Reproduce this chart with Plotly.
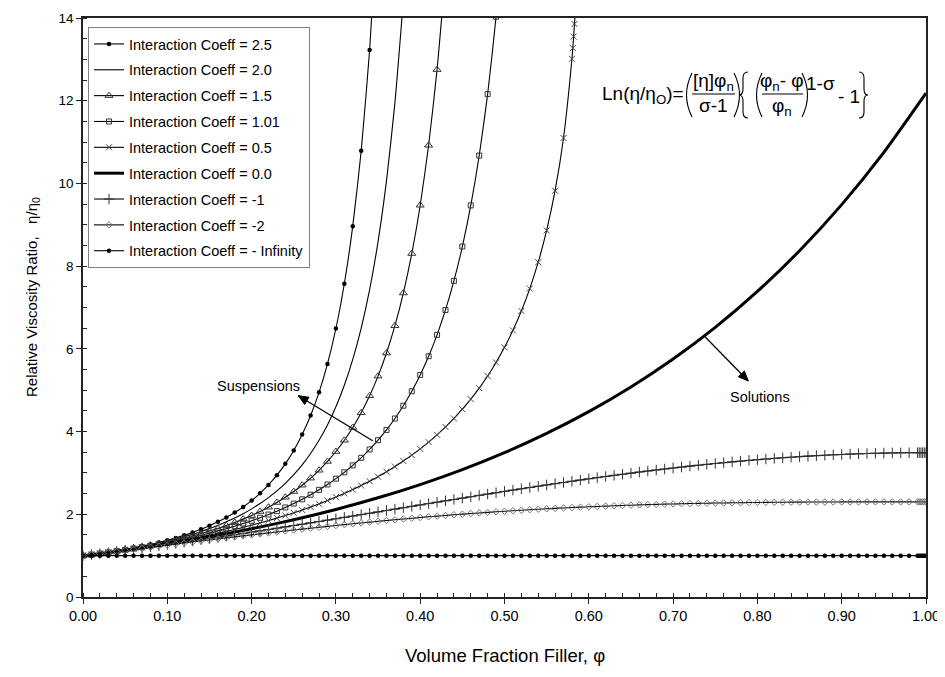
import math
import plotly.graph_objects as go

# ---------------- data ----------------
SERIES_NAMES = ["Interaction Coeff = 2.5", "Interaction Coeff = 2.0", "Interaction Coeff = 1.5",
                "Interaction Coeff = 1.01", "Interaction Coeff = 0.5", "Interaction Coeff = 0.0",
                "Interaction Coeff = -1", "Interaction Coeff = -2", "Interaction Coeff = - Infinity"]

PHI_S25 = [0.00, 0.01, 0.02, 0.03, 0.04, 0.05, 0.06, 0.07, 0.08, 0.09, 0.10, 0.11, 0.12, 0.13, 0.14, 0.15,
           0.16, 0.17, 0.18, 0.19, 0.20, 0.21, 0.22, 0.23, 0.24, 0.25, 0.26, 0.27, 0.28, 0.29, 0.30, 0.31,
           0.32, 0.33, 0.34, 0.35]
VISC_S25 = [1.0, 1.02587, 1.05359, 1.08336, 1.11539, 1.14991, 1.18723, 1.22764, 1.27153, 1.31930, 1.37147,
            1.42860, 1.49136, 1.56056, 1.63710, 1.72208, 1.81685, 1.92299, 2.04244, 2.17754, 2.33118,
            2.50689, 2.71045, 2.94523, 3.21953, 3.54267, 3.92690, 4.38798, 4.94785, 5.63560, 6.49194,
            7.57485, 8.96631, 10.7882, 13.2264, 16.5579]

PHI_S20 = [0.00, 0.01, 0.02, 0.03, 0.04, 0.05, 0.06, 0.07, 0.08, 0.09, 0.10, 0.11, 0.12, 0.13, 0.14, 0.15,
           0.16, 0.17, 0.18, 0.19, 0.20, 0.21, 0.22, 0.23, 0.24, 0.25, 0.26, 0.27, 0.28, 0.29, 0.30, 0.31,
           0.32, 0.33, 0.34, 0.35, 0.36, 0.37, 0.38]
VISC_S20 = [1.0, 1.02576, 1.05312, 1.08222, 1.11324, 1.14634, 1.18173, 1.21964, 1.26033, 1.30409, 1.35123,
            1.40217, 1.45731, 1.51717, 1.58231, 1.65341, 1.73124, 1.81670, 1.91085, 2.01501, 2.13063,
            2.25950, 2.40376, 2.56604, 2.74952, 2.95813, 3.19674, 3.47134, 3.78963, 4.16130, 4.59904,
            5.11942, 5.74436, 6.50184, 7.43352, 8.59328, 10.0612, 11.9490, 14.4257]

PHI_S15 = [0.00, 0.01, 0.02, 0.03, 0.04, 0.05, 0.06, 0.07, 0.08, 0.09, 0.10, 0.11, 0.12, 0.13, 0.14, 0.15,
           0.16, 0.17, 0.18, 0.19, 0.20, 0.21, 0.22, 0.23, 0.24, 0.25, 0.26, 0.27, 0.28, 0.29, 0.30, 0.31,
           0.32, 0.33, 0.34, 0.35, 0.36, 0.37, 0.38, 0.39, 0.40, 0.41, 0.42, 0.43]
VISC_S15 = [1.0, 1.02565, 1.05265, 1.08111, 1.11114, 1.14289, 1.17647, 1.21203, 1.24975, 1.28985, 1.33250,
            1.37796, 1.42647, 1.47837, 1.53397, 1.59364, 1.65785, 1.72706, 1.80182, 1.88279, 1.97070,
            2.06643, 2.17096, 2.28540, 2.41117, 2.54982, 2.70330, 2.87378, 3.06401, 3.27721, 3.51740,
            3.78946, 4.09923, 4.45432, 4.86411, 5.34055, 5.89917, 6.55958, 7.35031, 8.30488, 9.47259,
            10.9227, 12.7525, 15.1022]

PHI_S101 = [0.00, 0.01, 0.02, 0.03, 0.04, 0.05, 0.06, 0.07, 0.08, 0.09, 0.10, 0.11, 0.12, 0.13, 0.14, 0.15,
            0.16, 0.17, 0.18, 0.19, 0.20, 0.21, 0.22, 0.23, 0.24, 0.25, 0.26, 0.27, 0.28, 0.29, 0.30, 0.31,
            0.32, 0.33, 0.34, 0.35, 0.36, 0.37, 0.38, 0.39, 0.40, 0.41, 0.42, 0.43, 0.44, 0.45, 0.46, 0.47,
            0.48, 0.49, 0.50]
VISC_S101 = [1.0, 1.02554, 1.05219, 1.08004, 1.10914, 1.13960, 1.17149, 1.20491, 1.23997, 1.27677, 1.31546,
             1.35616, 1.39903, 1.44424, 1.49195, 1.54237, 1.59574, 1.65228, 1.71228, 1.77604, 1.84389,
             1.91620, 1.99343, 2.07604, 2.16457, 2.25967, 2.36199, 2.47233, 2.59162, 2.72094, 2.86144,
             3.01458, 3.18201, 3.36567, 3.56785, 3.79128, 4.03927, 4.31573, 4.62541, 4.97434, 5.36976,
             5.82093, 6.33953, 6.94054, 7.64331, 8.47413, 9.46821, 10.6743, 12.1604, 14.0313, 16.4370]

PHI_S05 = [0.00, 0.01, 0.02, 0.03, 0.04, 0.05, 0.06, 0.07, 0.08, 0.09, 0.10, 0.11, 0.12, 0.13, 0.14, 0.15,
           0.16, 0.17, 0.18, 0.19, 0.20, 0.21, 0.22, 0.23, 0.24, 0.25, 0.26, 0.27, 0.28, 0.29, 0.30, 0.31,
           0.32, 0.33, 0.34, 0.35, 0.36, 0.37, 0.38, 0.39, 0.40, 0.41, 0.42, 0.43, 0.44, 0.45, 0.46, 0.47,
           0.48, 0.49, 0.50, 0.51, 0.52, 0.53, 0.54, 0.55, 0.56, 0.57, 0.58, 0.581, 0.582, 0.583, 0.584, 0.585]
VISC_S05 = [1.0, 1.02542, 1.05173, 1.07894, 1.10711, 1.13629, 1.16652, 1.19785, 1.23033, 1.26403, 1.29901,
            1.33533, 1.37305, 1.41227, 1.45305, 1.49548, 1.53966, 1.58568, 1.63366, 1.68371, 1.73594,
            1.79050, 1.84755, 1.90722, 1.96968, 2.03514, 2.10380, 2.17588, 2.25162, 2.33129, 2.41520,
            2.50369, 2.59707, 2.69577, 2.80024, 2.91103, 3.02864, 3.15372, 3.28718, 3.42958, 3.58201,
            3.74560, 3.92160, 4.11143, 4.31697, 4.54033, 4.78392, 5.05099, 5.34534, 5.67178, 6.03651,
            6.44769, 6.91628, 7.45781, 8.09481, 8.86297, 9.82365, 11.0990, 13.0129, 13.2719, 13.5514,
            13.8554, 14.1896, 14.5622]

PHI_S00 = [0.00, 0.05, 0.10, 0.15, 0.20, 0.25, 0.30, 0.35, 0.40, 0.45, 0.50, 0.55, 0.60, 0.65, 0.70, 0.75,
           0.80, 0.85, 0.90, 0.95, 1.00]
VISC_S00 = [1.0, 1.13315, 1.28403, 1.45499, 1.64872, 1.86825, 2.11700, 2.39888, 2.71828, 3.08022, 3.49034,
            3.95508, 4.48169, 5.07842, 5.75460, 6.52082, 7.38906, 8.37290, 9.48774, 10.75101, 12.18249]

PHI_SOL = [0.00, 0.01, 0.02, 0.03, 0.04, 0.05, 0.06, 0.07, 0.08, 0.09, 0.10, 0.11, 0.12, 0.13, 0.14, 0.15,
           0.16, 0.17, 0.18, 0.19, 0.20, 0.21, 0.22, 0.23, 0.24, 0.25, 0.26, 0.27, 0.28, 0.29, 0.30, 0.31,
           0.32, 0.33, 0.34, 0.35, 0.36, 0.37, 0.38, 0.39, 0.40, 0.41, 0.42, 0.43, 0.44, 0.45, 0.46, 0.47,
           0.48, 0.49, 0.50, 0.51, 0.52, 0.53, 0.54, 0.55, 0.56, 0.57, 0.58, 0.59, 0.60, 0.61, 0.62, 0.63,
           0.64, 0.65, 0.66, 0.67, 0.68, 0.69, 0.70, 0.71, 0.72, 0.73, 0.74, 0.75, 0.76, 0.77, 0.78, 0.79,
           0.80, 0.81, 0.82, 0.83, 0.84, 0.85, 0.86, 0.87, 0.88, 0.89, 0.90, 0.91, 0.92, 0.93, 0.94, 0.95,
           0.96, 0.97, 0.98, 0.99, 0.992, 0.994, 0.996, 0.998, 1.00]
VISC_M1 = [1.0, 1.02519, 1.05075, 1.07667, 1.10296, 1.12961, 1.15662, 1.18397, 1.21167, 1.23971, 1.26808,
           1.29677, 1.32578, 1.35510, 1.38473, 1.41464, 1.44484, 1.47532, 1.50607, 1.53707, 1.56831,
           1.59980, 1.63150, 1.66342, 1.69554, 1.72784, 1.76032, 1.79297, 1.82577, 1.85870, 1.89175,
           1.92491, 1.95815, 1.99148, 2.02486, 2.05829, 2.09175, 2.12522, 2.15869, 2.19213, 2.22554,
           2.25889, 2.29217, 2.32536, 2.35844, 2.39139, 2.42420, 2.45684, 2.48930, 2.52155, 2.55359,
           2.58539, 2.61693, 2.64819, 2.67915, 2.70980, 2.74012, 2.77008, 2.79967, 2.82887, 2.85765,
           2.88601, 2.91392, 2.94137, 2.96833, 2.99479, 3.02073, 3.04614, 3.07099, 3.09527, 3.11897,
           3.14205, 3.16452, 3.18635, 3.20753, 3.22805, 3.24788, 3.26702, 3.28545, 3.30316, 3.32012,
           3.33634, 3.35181, 3.36651, 3.38042, 3.39355, 3.40587, 3.41738, 3.42808, 3.43795, 3.44699,
           3.45518, 3.46253, 3.46903, 3.47467, 3.47945, 3.48337, 3.48642, 3.48860, 3.48990, 3.4901,
           3.4902, 3.4903, 3.4903, 3.49034]
VISC_M2 = [1.0, 1.02506, 1.05023, 1.07549, 1.10082, 1.12621, 1.15163, 1.17708, 1.20253, 1.22797, 1.25337,
           1.27872, 1.30401, 1.32921, 1.35431, 1.37929, 1.40413, 1.42882, 1.45334, 1.47768, 1.50181,
           1.52573, 1.54941, 1.57286, 1.59604, 1.61895, 1.64157, 1.66389, 1.68590, 1.70758, 1.72893,
           1.74994, 1.77059, 1.79088, 1.81078, 1.83031, 1.84944, 1.86818, 1.88651, 1.90443, 1.92194,
           1.93902, 1.95569, 1.97192, 1.98772, 2.00308, 2.01801, 2.03250, 2.04656, 2.06017, 2.07335,
           2.08609, 2.09839, 2.11026, 2.12170, 2.13271, 2.14330, 2.15346, 2.16321, 2.17254, 2.18147,
           2.18999, 2.19813, 2.20587, 2.21323, 2.22021, 2.22683, 2.23309, 2.23899, 2.24455, 2.24978,
           2.25468, 2.25926, 2.26354, 2.26752, 2.27121, 2.27462, 2.27776, 2.28064, 2.28328, 2.28568,
           2.28785, 2.28981, 2.29156, 2.29312, 2.29450, 2.29571, 2.29675, 2.29765, 2.29841, 2.29905,
           2.29956, 2.29998, 2.30030, 2.30055, 2.30072, 2.30084, 2.30091, 2.30094, 2.30096, 2.3010,
           2.3010, 2.3010, 2.3010, 2.30097]
VISC_MINF = [1.0, 1.0, 1.0, 1.0, 1.0, 1.0, 1.0, 1.0, 1.0, 1.0, 1.0, 1.0, 1.0, 1.0, 1.0, 1.0, 1.0, 1.0, 1.0,
             1.0, 1.0, 1.0, 1.0, 1.0, 1.0, 1.0, 1.0, 1.0, 1.0, 1.0, 1.0, 1.0, 1.0, 1.0, 1.0, 1.0, 1.0, 1.0,
             1.0, 1.0, 1.0, 1.0, 1.0, 1.0, 1.0, 1.0, 1.0, 1.0, 1.0, 1.0, 1.0, 1.0, 1.0, 1.0, 1.0, 1.0, 1.0,
             1.0, 1.0, 1.0, 1.0, 1.0, 1.0, 1.0, 1.0, 1.0, 1.0, 1.0, 1.0, 1.0, 1.0, 1.0, 1.0, 1.0, 1.0, 1.0,
             1.0, 1.0, 1.0, 1.0, 1.0, 1.0, 1.0, 1.0, 1.0, 1.0, 1.0, 1.0, 1.0, 1.0, 1.0, 1.0, 1.0, 1.0, 1.0,
             1.0, 1.0, 1.0, 1.0, 1.0, 1.0, 1.0, 1.0, 1.0, 1.0]

X_TICKS = [0.0, 0.1, 0.2, 0.3, 0.4, 0.5, 0.6, 0.7, 0.8, 0.9, 1.0]
X_TICK_LABELS = ["0.00", "0.10", "0.20", "0.30", "0.40", "0.50", "0.60", "0.70", "0.80", "0.90", "1.00"]
Y_TICKS = [0, 2, 4, 6, 8, 10, 12, 14]
X_TITLE = "Volume Fraction Filler, φ"
Y_TITLE = "Relative Viscosity Ratio,   η/η<sub>0</sub>"

# ---------------- figure ----------------
FONT = "Liberation Sans, Arial, sans-serif"
OFF = 8                      # default page margin of the html body
W, H = 937, 661
L, R, T, B = 75, 19, 10, 72
PW, PH = W - L - R, H - T - B


def px(xp):                  # page pixel -> paper x
    return (xp - OFF - L) / PW


def py(yp):                  # page pixel -> paper y
    return (H - B - (yp - OFF)) / PH


fig = go.Figure()


def add(xv, yv, name, mode, marker=None, width=1.1):
    fig.add_trace(go.Scatter(
        x=xv, y=yv, name=name, mode=mode, legendgroup=name,
        line=dict(color="black", width=width, shape="spline", smoothing=0.6),
        marker=marker, cliponaxis=True))


add(PHI_S25, VISC_S25, SERIES_NAMES[0], "lines+markers", dict(symbol="circle", size=4.5, color="black"))
add(PHI_S20, VISC_S20, SERIES_NAMES[1], "lines")
add(PHI_S15, VISC_S15, SERIES_NAMES[2], "lines+markers",
    dict(symbol="triangle-up-open", size=7, color="#333", line=dict(width=1)))
add(PHI_S101, VISC_S101, SERIES_NAMES[3], "lines+markers",
    dict(symbol="square-open", size=5, color="#333", line=dict(width=1)))
add(PHI_S05, VISC_S05, SERIES_NAMES[4], "lines+markers",
    dict(symbol="x-thin-open", size=6, color="#444", line=dict(width=1, color="#444")))
add(PHI_S00, VISC_S00, SERIES_NAMES[5], "lines", width=3)
add(PHI_SOL, VISC_M1, SERIES_NAMES[6], "lines+markers",
    dict(symbol="cross-thin-open", size=7.5, color="#333", line=dict(width=1, color="#333")))
add(PHI_SOL, VISC_M2, SERIES_NAMES[7], "lines+markers",
    dict(symbol="diamond-open", size=5, color="#777", line=dict(width=1, color="#777")))
add(PHI_SOL, VISC_MINF, SERIES_NAMES[8], "lines+markers", dict(symbol="circle", size=4.5, color="black"))

axis_common = dict(
    showgrid=False, zeroline=False, showline=True, linecolor="#222", linewidth=1.5, mirror=True,
    ticks="outside", ticklen=5, tickwidth=1, tickcolor="#222",
)

fig.update_xaxes(range=[0, 1], tickvals=X_TICKS, ticktext=X_TICK_LABELS,
                 tickfont=dict(family=FONT, size=14.5, color="black"),
                 minor=dict(dtick=0.02, ticks="inside", ticklen=4, tickcolor="#222"),
                 **axis_common)
fig.update_yaxes(range=[0, 14], tickvals=Y_TICKS,
                 tickfont=dict(family=FONT, size=13.5, color="black"),
                 minor=dict(dtick=0.5, ticks="inside", ticklen=4, tickcolor="#222"),
                 **axis_common)

ann = []
shapes = []


def text_at(txt, xc, yc, size, anchor="center", angle=0):
    ann.append(dict(x=px(xc), y=py(yc), xref="paper", yref="paper", text=txt, showarrow=False,
                    xanchor=anchor, yanchor="middle", textangle=angle,
                    font=dict(family=FONT, size=size, color="black")))


# axis titles
text_at(X_TITLE, 505, 655, 18.5)
text_at(Y_TITLE, 32, 297, 15, angle=-90)

# callouts
text_at("Suspensions", 258, 386, 14.5)
text_at("Solutions", 760, 397, 14.5)


def arrow(tail, head, hl=10, hw=4.2):
    shapes.append(dict(type="line", xref="paper", yref="paper",
                       x0=px(tail[0]), y0=py(tail[1]), x1=px(head[0]), y1=py(head[1]),
                       line=dict(color="black", width=1.3)))
    dx, dy = head[0] - tail[0], head[1] - tail[1]
    n = math.hypot(dx, dy)
    ux, uy = dx / n, dy / n
    bx, by = head[0] - ux * hl, head[1] - uy * hl
    p1 = (bx - uy * hw, by + ux * hw)
    p2 = (bx + uy * hw, by - ux * hw)
    pts = [head, p1, p2]
    shapes.append(dict(type="path", xref="paper", yref="paper",
                       path="M " + " L ".join("%.5f,%.5f" % (px(a), py(b)) for a, b in pts) + " Z",
                       fillcolor="black", line=dict(color="black", width=1)))


arrow((372.7, 440.7), (298.3, 395.7))
arrow((705.0, 336.7), (748.3, 381.0))

# equation
EQS = 19
text_at("Ln(η/η<sub>O</sub>)=", 686, 95, EQS, "right")
text_at("[η]φ<sub>n</sub>", 713, 82, EQS)
text_at("σ-1", 713, 106, EQS)
text_at("φ<sub>n</sub>- φ", 782, 82, EQS)
text_at("φ<sub>n</sub>", 782, 107, EQS)
text_at("1-σ", 804, 83, EQS, "left")
text_at("- 1", 836, 96, EQS, "left")


def path(points):
    s = []
    for cmd, pts in points:
        s.append(cmd + " " + " ".join("%.5f,%.5f" % (px(a), py(b)) for a, b in pts))
    return " ".join(s)


def add_path(points, w=1.1):
    shapes.append(dict(type="path", xref="paper", yref="paper", path=path(points),
                       line=dict(color="black", width=w)))


for x0, x1 in [(692, 735), (762, 803)]:
    shapes.append(dict(type="line", xref="paper", yref="paper", x0=px(x0), x1=px(x1), y0=py(94), y1=py(94),
                       line=dict(color="black", width=1)))
for xl in [692, 762]:
    add_path([("M", [(xl, 73)]), ("Q", [(xl - 11, 95), (xl, 117)])])
for xr in [734, 802]:
    add_path([("M", [(xr, 73)]), ("Q", [(xr + 11, 95), (xr, 117)])])
add_path([("M", [(748, 72)]), ("Q", [(743, 72), (743, 78)]), ("L", [(743, 89)]),
          ("Q", [(743, 95), (739, 95)]), ("Q", [(743, 95), (743, 101)]), ("L", [(743, 112)]),
          ("Q", [(743, 118), (748, 118)])])
add_path([("M", [(859, 72)]), ("Q", [(864, 72), (864, 78)]), ("L", [(864, 89)]),
          ("Q", [(864, 95), (868, 95)]), ("Q", [(864, 95), (864, 101)]), ("L", [(864, 112)]),
          ("Q", [(864, 118), (859, 118)])])

fig.update_layout(
    width=W, height=H, margin=dict(l=L, r=R, t=T, b=B, autoexpand=False),
    paper_bgcolor="white", plot_bgcolor="white",
    font=dict(family=FONT, size=14.5, color="black"),
    showlegend=True,
    legend=dict(x=px(88), y=py(27), xanchor="left", yanchor="top", bgcolor="white",
                bordercolor="#808080", borderwidth=1, font=dict(family=FONT, size=14.5, color="black"),
                tracegroupgap=4, itemwidth=30, traceorder="grouped"),
    annotations=ann, shapes=shapes,
)

fig.write_html("out.html")
